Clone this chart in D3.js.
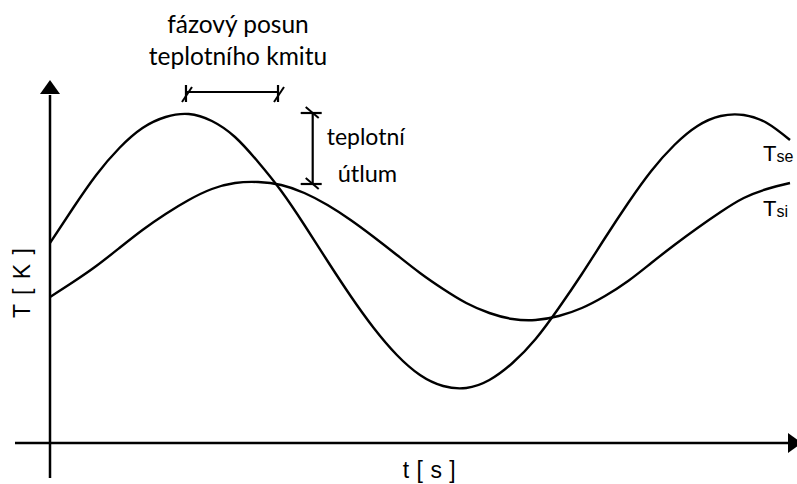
<!DOCTYPE html>
<html><head><meta charset="utf-8">
<script src="https://cdn.jsdelivr.net/npm/d3@7/dist/d3.min.js"></script>
<style>
html,body{margin:0;padding:0;background:#fff;}
svg{display:block;}
</style></head>
<body>
<svg id="chart" width="797" height="484"></svg>
<script>
// time samples (arbitrary units along t axis)
const tValues = [0,0.5,1,1.5,2,2.5,3,3.5,4,4.5,5,5.5,6,6.5,7,7.5,8,8.5,9,9.5,10,10.5,11,11.5,12,12.5,13,13.5,14,14.5,15,15.5,16];
// outer surface temperature T_se
const tseValues = [20.0,23.5,26.8,29.5,31.5,32.6,32.9,32.2,30.6,28.1,25.2,21.8,18.2,14.7,11.5,8.8,6.8,5.7,5.5,6.3,8.0,10.4,13.5,16.9,20.5,24.0,27.2,29.8,31.7,32.7,32.8,32.0,30.3];
// inner surface temperature T_si
const tsiValues = [14.6,16.1,17.7,19.5,21.3,22.9,24.3,25.4,26.0,26.1,25.8,25.0,23.8,22.3,20.6,18.8,17.0,15.4,14.0,13.0,12.4,12.3,12.7,13.5,14.7,16.2,18.0,19.8,21.5,23.1,24.5,25.4,26.0];
const seriesLabels = ["T", "se", "T", "si"];
const axisLabels = ["t [ s ]", "T [ K ]"];
const phaseText = ["fázový posun", "teplotního kmitu"];
const attenText = ["teplotní", "útlum"];
// annotation anchors (data units)
const phaseSpan = [2.94, 4.93];   // t from..to
const phaseLevel = 35.1;          // T level of dimension line
const attenAt = 5.68;             // t position
const attenSpan = [33.0, 25.9];   // T from..to

const svg = d3.select("#chart");
const x = d3.scaleLinear().domain([0, 16]).range([50, 790]);
const y = d3.scaleLinear().domain([0, 36.4]).range([443, 79]);

const ink = "#000";
const sans = "'Liberation Sans', Arial, sans-serif";
const cal = "Lato, 'Open Sans', sans-serif";

// axes
svg.append("line").attr("x1", x(-0.757)).attr("x2", x(16)).attr("y1", y(0)).attr("y2", y(0))
  .attr("stroke", ink).attr("stroke-width", 2.5);
svg.append("line").attr("x1", x(0)).attr("x2", x(0)).attr("y1", y(-3.5)).attr("y2", y(34.8))
  .attr("stroke", ink).attr("stroke-width", 2.5);
// arrow heads
svg.append("path")
  .attr("d", `M${x(0)},${y(36.3)} L${x(0)-10},${y(34.9)} L${x(0)+10},${y(34.9)} Z`)
  .attr("fill", ink);
svg.append("path")
  .attr("d", `M${x(16) + 12},${y(0)} L${x(16) - 2},${y(0)-10} L${x(16) - 2},${y(0)+10} Z`)
  .attr("fill", ink);

// curves
const line = d3.line().x(d => x(d[0])).y(d => y(d[1])).curve(d3.curveNatural);
[tseValues, tsiValues].forEach(vals => {
  svg.append("path").datum(tValues.map((t, i) => [t, vals[i]]))
    .attr("d", line).attr("fill", "none").attr("stroke", ink).attr("stroke-width", 2.4);
});

// series labels
function seriesLabel(val, yOff){
  return svg.append("text").attr("x", x(16) - 27).attr("y", y(val) + yOff)
    .attr("font-family", sans).attr("font-size", 22).attr("fill", ink);
}
const l1 = seriesLabel(tseValues[tseValues.length - 1], 21);
l1.append("tspan").text(seriesLabels[0]);
l1.append("tspan").attr("font-size", 16).attr("dy", 1).text(seriesLabels[1]);
const l2 = seriesLabel(tsiValues[tsiValues.length - 1], 33);
l2.append("tspan").text(seriesLabels[2]);
l2.append("tspan").attr("font-size", 16).attr("dy", 1).text(seriesLabels[3]);

// axis labels
svg.append("text").attr("x", x(8.2)).attr("y", 478).attr("text-anchor", "middle")
  .attr("font-family", sans).attr("font-size", 23).attr("word-spacing", 1).attr("fill", ink).text(axisLabels[0]);
svg.append("text").attr("transform", `translate(30,${y(16)}) rotate(-90)`).attr("text-anchor", "middle")
  .attr("font-family", sans).attr("font-size", 23).attr("word-spacing", 3).attr("fill", ink).text(axisLabels[1]);

// phase shift annotation
const px1 = x(phaseSpan[0]), px2 = x(phaseSpan[1]), py = y(phaseLevel);
svg.append("line").attr("x1", px1).attr("x2", px2).attr("y1", py).attr("y2", py).attr("stroke", ink).attr("stroke-width", 2.2);
[px1, px2].forEach(px => {
  svg.append("line").attr("x1", px).attr("x2", px).attr("y1", py - 7).attr("y2", py + 10).attr("stroke", ink).attr("stroke-width", 2.2);
  svg.append("line").attr("x1", px - 4).attr("x2", px + 6).attr("y1", py + 10).attr("y2", py - 5).attr("stroke", ink).attr("stroke-width", 2);
});
const pcx = (px1 + px2) / 2 + 6;
svg.append("text").attr("x", pcx).attr("y", 33).attr("text-anchor", "middle")
  .attr("font-family", cal).attr("font-size", 24.5).attr("fill", ink).text(phaseText[0]);
svg.append("text").attr("x", pcx).attr("y", 65).attr("text-anchor", "middle")
  .attr("font-family", cal).attr("font-size", 24.5).attr("fill", ink).text(phaseText[1]);

// attenuation annotation
const ax = x(attenAt), ay1 = y(attenSpan[0]), ay2 = y(attenSpan[1]);
svg.append("line").attr("x1", ax).attr("x2", ax).attr("y1", ay1).attr("y2", ay2).attr("stroke", ink).attr("stroke-width", 2.2);
[ay1, ay2].forEach(ay => {
  svg.append("line").attr("x1", ax - 12).attr("x2", ax + 9).attr("y1", ay).attr("y2", ay).attr("stroke", ink).attr("stroke-width", 2.2);
  svg.append("line").attr("x1", ax - 7).attr("x2", ax + 6).attr("y1", ay - 6).attr("y2", ay + 5).attr("stroke", ink).attr("stroke-width", 2);
});
svg.append("text").attr("x", ax + 14).attr("y", 145)
  .attr("font-family", cal).attr("font-size", 23).attr("fill", ink).text(attenText[0]);
svg.append("text").attr("x", ax + 25).attr("y", 182)
  .attr("font-family", cal).attr("font-size", 23.5).attr("fill", ink).text(attenText[1]);
</script>
</body></html>
